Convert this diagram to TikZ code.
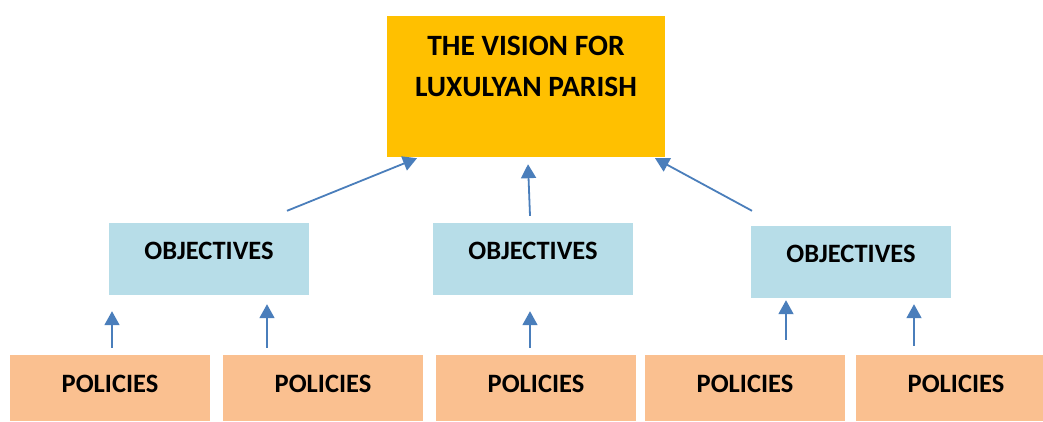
\documentclass[tikz,border=0pt]{standalone}
\usepackage{fontspec}
\setmainfont{Carlito}
\usetikzlibrary{arrows.meta}
\tikzset{>=Triangle}
\definecolor{visgold}{HTML}{FFC000}
\definecolor{objblue}{HTML}{B7DDE8}
\definecolor{polpeach}{HTML}{FAC090}
\definecolor{arrblue}{HTML}{4A7EBB}

\begin{document}
\begin{tikzpicture}[x=1pt,y=-1pt,
  box/.style={inner sep=0pt,font=\fontsize{26.5}{41}\selectfont\bfseries},
  visbox/.style={box,fill=visgold,minimum width=278pt,minimum height=141pt,align=center,font=\fontsize{29.5}{41}\selectfont\bfseries},
  objbox/.style={box,fill=objblue,minimum width=200pt,text height=36pt,text depth=36pt},
  polbox/.style={box,fill=polpeach,minimum width=200pt,text height=37.5pt,text depth=28.5pt},
  up/.style={->,draw=arrblue,line width=1.8pt,>={Triangle[length=14pt,width=15pt]}}]
\useasboundingbox (0,0) rectangle (1043,421);
\node[visbox] (vis) at (526,86.5) {THE VISION FOR\\LUXULYAN PARISH\\\mbox{}};
\node[objbox] (obj1) at (209,259) {OBJECTIVES};
\node[objbox] (obj2) at (533,259) {OBJECTIVES};
\node[objbox] (obj3) at (851,262) {OBJECTIVES};
\node[polbox] (pol1) at (110,388) {POLICIES};
\node[polbox] (pol2) at (323,388) {POLICIES};
\node[polbox] (pol3) at (536,388) {POLICIES};
\node[polbox] (pol4) at (745,388) {POLICIES};
\node[polbox] (pol5) at (956,388) {POLICIES};
% objectives to vision
\draw[up] ([shift={(78pt,12pt)}]obj1.north) -- ([shift={(-109pt,-1pt)}]vis.south);
\draw[up] ([shift={(-3pt,7pt)}]obj2.north) -- ([shift={(2pt,-7pt)}]vis.south);
\draw[up] ([shift={(-99pt,15pt)}]obj3.north) -- ([shift={(129pt,-1pt)}]vis.south);
% policies to objectives
\draw[up,shorten <=7pt,shorten >=16pt] ([xshift=2pt]pol1.north) -- ([xshift=2pt]pol1.north |- obj1.south);
\draw[up,shorten <=7pt,shorten >=9pt] ([xshift=-56pt]pol2.north) -- ([xshift=-56pt]pol2.north |- obj1.south);
\draw[up,shorten <=7pt,shorten >=16pt] ([xshift=-6pt]pol3.north) -- ([xshift=-6pt]pol3.north |- obj2.south);
\draw[up,shorten <=15pt,shorten >=2pt] ([xshift=41pt]pol4.north) -- ([xshift=41pt]pol4.north |- obj3.south);
\draw[up,shorten <=9pt,shorten >=6pt] ([xshift=-42pt]pol5.north) -- ([xshift=-42pt]pol5.north |- obj3.south);
\end{tikzpicture}
\end{document}
